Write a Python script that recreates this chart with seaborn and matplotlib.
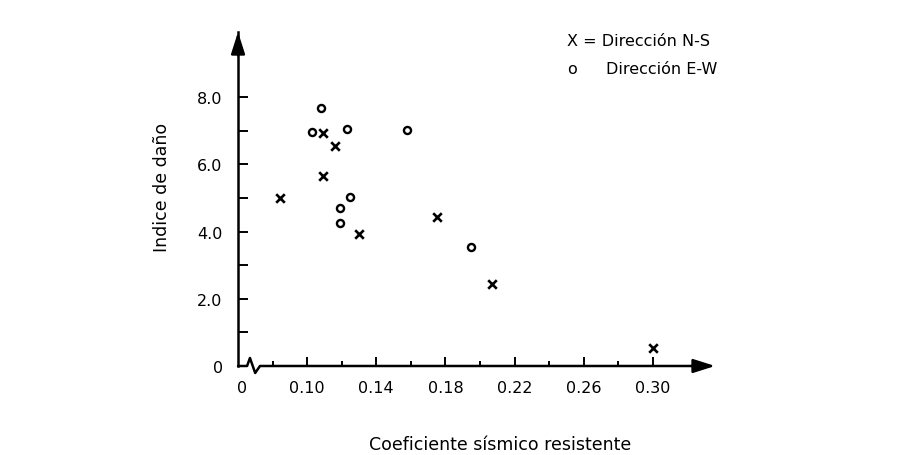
import numpy as np
import pandas as pd
import seaborn as sns
import matplotlib.pyplot as plt

# valores
coef_ns = [0.084, 0.109, 0.116, 0.109, 0.130, 0.175, 0.207, 0.300]
dano_ns = [5.00, 6.93, 6.56, 5.66, 3.92, 4.43, 2.44, 0.54]

coef_ew = [0.103, 0.108, 0.123, 0.158, 0.125, 0.119, 0.119, 0.195]
dano_ew = [6.95, 7.67, 7.05, 7.01, 5.02, 4.70, 4.26, 3.53]

x_ticks = [0.10, 0.14, 0.18, 0.22, 0.26, 0.30]
x_minor = [0.08, 0.12, 0.16, 0.20, 0.24, 0.28]
y_ticks = [0, 2, 4, 6, 8]
y_minor = [1, 3, 5, 7]

sns.set_theme(style="white")
plt.rcParams['font.family'] = ['DejaVu Sans']

ns = pd.DataFrame({'coef': coef_ns, 'dano': dano_ns})
ew = pd.DataFrame({'coef': coef_ew, 'dano': dano_ew})

fig = plt.figure(figsize=(9.04, 4.56), dpi=100)
ax = fig.add_axes([0.2633, 0.1952, 0.5277, 0.7325])

sns.scatterplot(data=ns, x='coef', y='dano', marker='x', color='black',
                s=38, linewidth=1.9, ax=ax, zorder=3)
sns.scatterplot(data=ew, x='coef', y='dano', marker='o', facecolor='white',
                edgecolor='black', s=26, linewidth=1.7, ax=ax, zorder=3)

ax.set_xlim(0.06, 0.336)
ax.set_ylim(0, 9.94)

ax.set_xticks([0.0625] + x_ticks)
ax.set_xticklabels(['0'] + ['{:.2f}'.format(v) for v in x_ticks])
ax.set_xticks(x_minor, minor=True)
ax.set_yticks(y_ticks)
ax.set_yticklabels(['0'] + ['{:.1f}'.format(v) for v in y_ticks[1:]])
ax.set_yticks(y_minor, minor=True)

ax.tick_params(axis='x', which='major', direction='in', length=6.5,
               width=1.4, color='black', pad=10, labelsize=11.5,
               labelcolor='black')
ax.tick_params(axis='x', which='minor', direction='in', length=3.5,
               width=1.4, color='black')
ax.tick_params(axis='y', which='both', direction='in', length=7,
               width=1.4, color='black', pad=11, labelsize=11.5,
               labelcolor='black', left=True)
ax.tick_params(axis='x', which='both', bottom=True)
ax.xaxis.get_major_ticks()[0].tick1line.set_visible(False)
ax.yaxis.get_major_ticks()[0].tick1line.set_visible(False)

for side in ['top', 'right', 'bottom']:
    ax.spines[side].set_visible(False)
ax.spines['left'].set_color('black')
ax.spines['left'].set_linewidth(1.8)

# eje x con corte
brk_x = [0, 0.019, 0.025, 0.036, 0.046, 0.97]
brk_y = [0, 0, 0.024, -0.021, 0, 0]
ax.plot(brk_x, brk_y, color='black', lw=1.8, transform=ax.transAxes,
        clip_on=False, zorder=2)

arrow = dict(arrowstyle='-|>,head_length=1.1,head_width=0.35',
             color='black', lw=1.8, shrinkA=0, shrinkB=0)
ax.annotate('', xy=(1.0, 0), xytext=(0.95, 0), xycoords='axes fraction',
            arrowprops=arrow, annotation_clip=False)
ax.annotate('', xy=(0, 1.0), xytext=(0, 0.93), xycoords='axes fraction',
            arrowprops=arrow, annotation_clip=False)

ax.set_xlabel('Coeficiente sísmico resistente', fontsize=12.5,
              color='black')
ax.set_ylabel('Indice de daño', fontsize=12.5, color='black')
ax.xaxis.set_label_coords(0.549, -0.208)
ax.yaxis.set_label_coords(-0.14, 0.539)

fig.text(567 / 904, 1 - 42 / 456, 'X = Dirección N-S', fontsize=11.5,
         va='center', ha='left', color='black')
fig.text(567 / 904, 1 - 70 / 456, 'o', fontsize=11.5,
         va='center', ha='left', color='black')
fig.text(606 / 904, 1 - 70 / 456, 'Dirección E-W', fontsize=11.5,
         va='center', ha='left', color='black')

fig.savefig('out.png', dpi=100, facecolor='white')
